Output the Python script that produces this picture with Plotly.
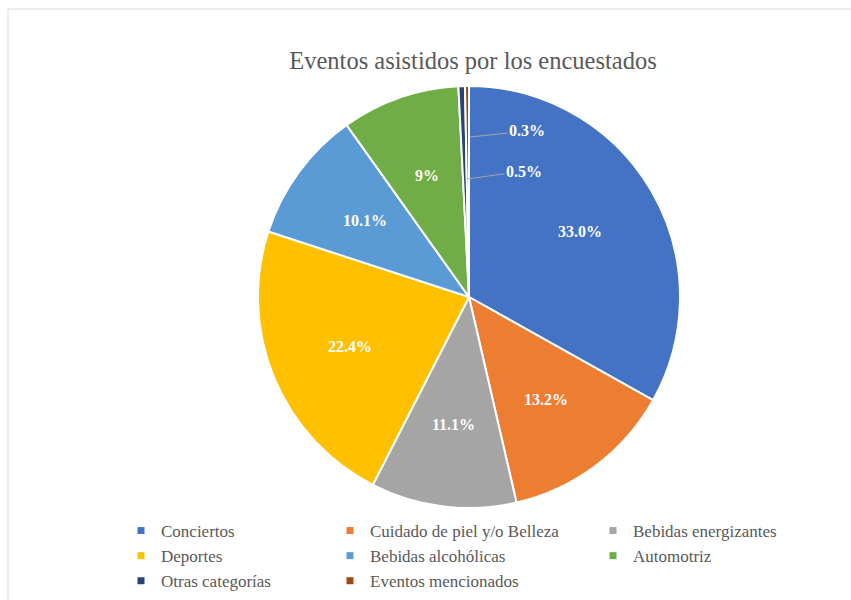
import math
import plotly.graph_objects as go

categories = ["Conciertos", "Cuidado de piel y/o Belleza", "Bebidas energizantes",
              "Deportes", "Bebidas alcohólicas", "Automotriz",
              "Otras categorías", "Eventos mencionados"]
values = [33.0, 13.2, 11.1, 22.4, 10.1, 9.0, 0.5, 0.3]
labels_txt = ["33.0%", "13.2%", "11.1%", "22.4%", "10.1%", "9%", "0.5%", "0.3%"]
colors = ["#4472C4", "#ED7D31", "#A5A5A5", "#FFC000", "#5B9BD5", "#70AD47", "#264478", "#9E480E"]
legend_cols = ["legend", "legend2", "legend3", "legend", "legend2", "legend3", "legend", "legend2"]

W, H = 851, 600
FONT = "Liberation Serif"
CX, CY, R = 469, 297, 211  # pie centre / radius in px

fig = go.Figure()
fig.add_trace(go.Pie(
    labels=categories, values=values, textinfo="none",
    sort=False, direction="clockwise", rotation=0,
    marker=dict(colors=colors, line=dict(color="white", width=2)),
    showlegend=False, hoverinfo="label+percent",
    domain=dict(x=[(CX - R) / W, (CX + R) / W], y=[1 - (CY + R) / H, 1 - (CY - R) / H]),
))

for name, col, lg in zip(categories, colors, legend_cols):
    fig.add_trace(go.Scatter(x=[None], y=[None], mode="markers", name=name,
                             marker=dict(symbol="square", size=7, color=col),
                             legend=lg, showlegend=True))

label_font = dict(family=FONT, size=16, color="white", weight="bold")
total = sum(values)
cum = 0.0
for v, txt in zip(values, labels_txt):
    mid = (cum + v / 2) / total * 2 * math.pi
    cum += v
    if v < 1:
        continue
    r = 0.61 * R
    px = CX + r * math.sin(mid)
    py = CY - r * math.cos(mid)
    fig.add_annotation(x=px / W, y=1 - py / H, xref="paper", yref="paper", text=txt,
                       xanchor="center", yanchor="middle",
                       showarrow=False, font=label_font)

# small-slice labels with leader lines
small = [(labels_txt[7], 470, 137, 57, -6), (labels_txt[6], 467, 179, 57, -8)]
for txt, px, py, ax, ay in small:
    fig.add_annotation(x=px / W, y=1 - py / H, xref="paper", yref="paper", text=txt,
                       showarrow=True, arrowhead=0, arrowwidth=1, arrowcolor="#A6A6A6",
                       ax=ax, ay=ay, font=label_font)

legend_common = dict(orientation="v", xanchor="left", yanchor="top", bgcolor="rgba(0,0,0,0)",
                     font=dict(family=FONT, size=17, color="#595959"), itemwidth=30,
                     tracegroupgap=0)
fig.update_layout(
    width=W, height=H, margin=dict(l=0, r=0, t=0, b=0, autoexpand=False),
    paper_bgcolor="#f9f9f9", plot_bgcolor="white",
    title=dict(text="Eventos asistidos por los encuestados", x=473 / W, y=1 - 60 / H,
               xanchor="center", yanchor="middle",
               font=dict(family=FONT, size=24.5, color="#595959")),
    xaxis=dict(visible=False), yaxis=dict(visible=False),
    legend=dict(x=(163 - 42) / W, y=1 - 513 / H, **legend_common),
    legend2=dict(x=(372 - 42) / W, y=1 - 513 / H, **legend_common),
    legend3=dict(x=(635 - 42) / W, y=1 - 513 / H, **legend_common),
    shapes=[dict(type="rect", xref="paper", yref="paper", x0=8 / W, x1=1.01, y0=-0.01,
                 y1=1 - 9 / H, fillcolor="white", line=dict(color="#D9D9D9", width=1),
                 layer="below")],
)

fig.write_html("out.html")
